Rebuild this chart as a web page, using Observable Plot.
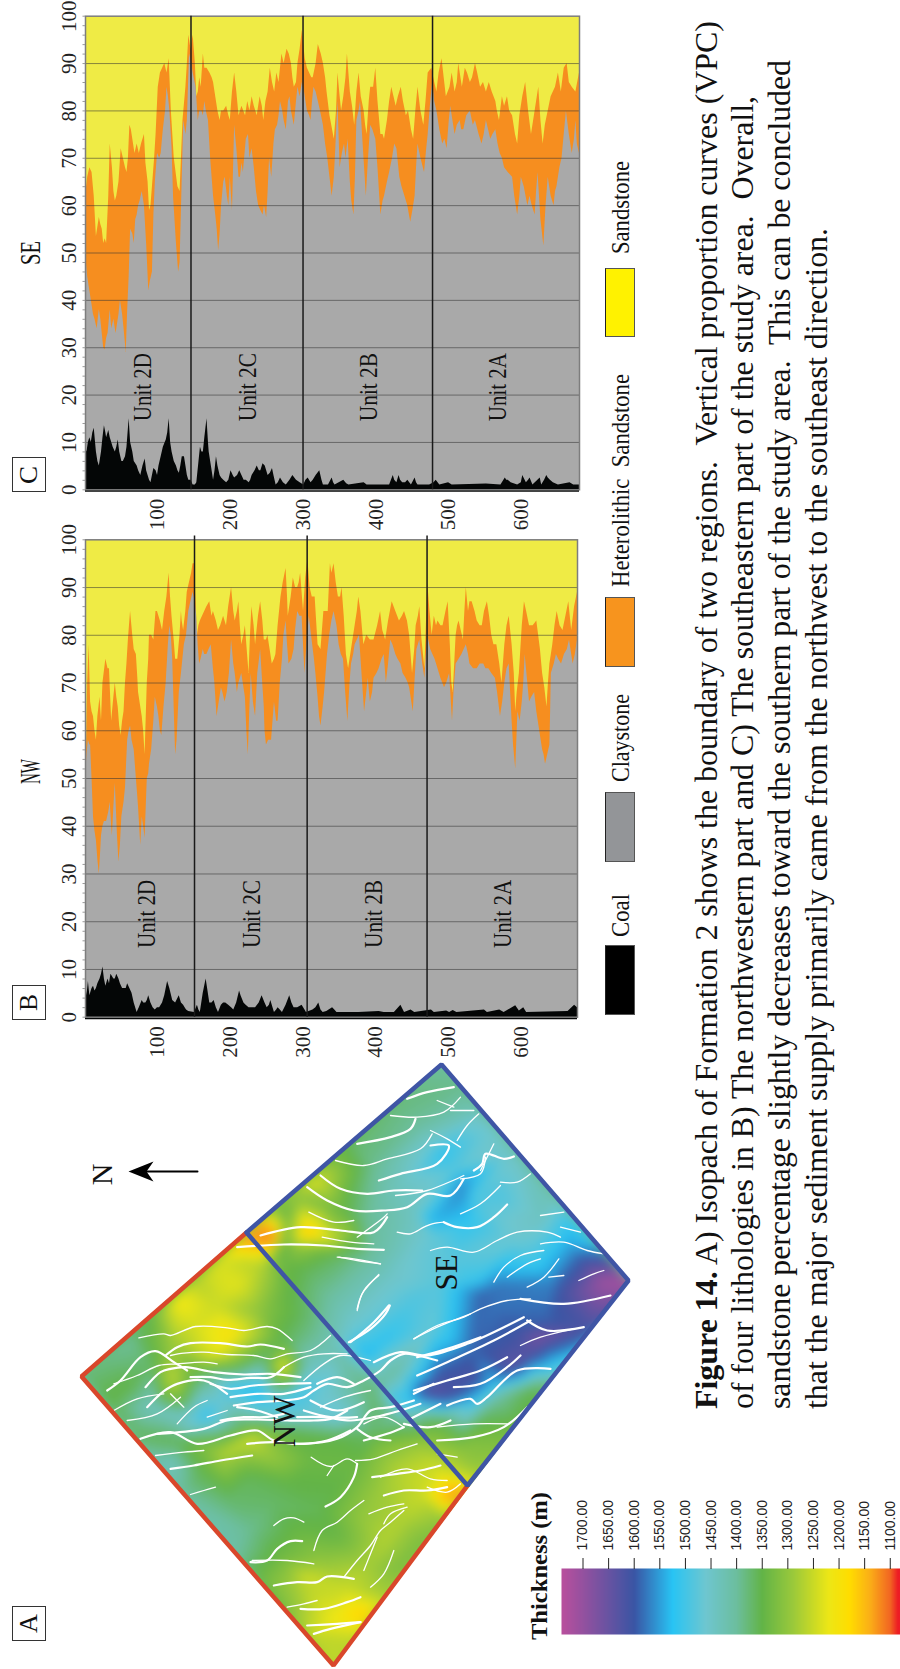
<!DOCTYPE html>
<html><head><meta charset="utf-8">
<script src="https://cdn.jsdelivr.net/npm/d3@7"></script>
<script src="https://cdn.jsdelivr.net/npm/@observablehq/plot@0.6"></script>
<style>
html,body{margin:0;padding:0;background:#fff}
#page{position:relative;width:900px;height:1669px;overflow:hidden;font-family:"Liberation Serif",serif;color:#111}
#page>svg,#page>figure{position:absolute;margin:0}
.rt{position:absolute;left:0;top:0;white-space:pre;line-height:1;transform-origin:0 0}
.sw{position:absolute;box-sizing:border-box}
.box{position:absolute;box-sizing:border-box;border:1.5px solid #333;background:#fff}
</style></head><body><div id="page"></div>
<script>
// ---------- vertical proportion curves: [depth index, cumulative percent] ----------
const seHeteroTop=[[1,62],[7,68],[10,67],[13,62],[16,53.5],[20,57.5],[22,56],[26,52],[30,52],[33,62],[35,73],[40,63],[44,62],[47,65],[50,72],[56,68],[58,67],[62,77],[66,74],[72,73],[75,71],[82,75],[87,65],[89,59],[93,64],[98,75],[101,85],[107,89],[116,91],[119,80],[123,70],[128,64],[131,63],[135,78],[139,85],[143,96],[149,96],[154,83],[158,87],[163,92],[168,89],[177,86],[181,82],[186,78],[191,80],[195,81],[200,78],[206,88],[212,79],[216,81],[221,79],[230,83],[237,79],[241,83],[246,78],[249,82],[255,89],[261,84],[271,92],[274,90],[278,93],[284,90],[288,85],[293,90],[299,97],[303,91],[309,88],[314,87],[321,94],[328,90],[333,84],[337,79],[343,74],[348,88],[353,80],[356,83],[361,92],[365,84],[371,77],[377,88],[384,80],[388,75],[393,85],[400,89],[407,75],[412,74],[416,78],[422,85],[428,81],[435,85],[442,79],[452,74],[458,85],[466,77],[472,88],[477,89],[484,84],[491,91],[497,83],[505,88],[509,84],[514,90],[519,85],[523,89],[530,86],[537,90],[544,85],[556,86],[565,82],[570,78],[574,83],[584,80],[595,73],[606,86],[614,75],[624,85],[630,73],[637,80],[647,85],[663,90],[670,85],[680,88]];
const seHeteroDetail=[[4,66],[24,55],[28,53],[38,68],[42,61],[53,70],[60,70],[64,76],[69,71],[78,73],[84,69],[91,60],[96,70],[104,88],[110,90],[113,88],[141,90],[146,93],[152,90],[156,84],[160,85],[165,89],[172,88],[175,87],[179,84],[183,80],[188,80],[198,79],[203,84],[209,84],[214,80],[224,82],[227,80],[233,81],[244,81],[252,84],[258,86],[264,88],[267,86],[281,92],[286,87],[291,86],[296,93],[306,89],[312,87],[318,90],[325,92],[331,87],[346,80],[351,83],[359,87],[368,81],[374,84],[380,83],[386,77],[391,82],[397,85],[403,82],[410,75],[419,82],[425,83],[431,83],[438,82],[445,80],[449,76],[455,80],[462,80],[469,82],[481,86],[487,88],[494,87],[502,85],[512,86],[526,88],[533,87],[540,88],[548,86],[552,84],[560,84],[567,80],[577,81],[581,83],[588,79],[592,75],[598,79],[602,83],[610,80],[618,79],[621,82],[627,78],[633,77],[641,83],[651,88],[655,84],[659,89],[666,86],[675,84]];
const seClayTop=[[1,50],[4,45],[9,40],[14,36],[17,34],[20,38],[24,33],[28,29.5],[32,33],[35,38],[37,34],[40,36],[43,33],[47,37],[49,40],[54,34],[57,29],[59,38],[61,45],[63,55],[66,54],[70,57],[74,60],[79,63],[82,60],[85,52],[88,42],[93,46],[95,58],[100,71],[105,71],[111,80],[113,85],[117,80],[120,72],[122,62],[126,52],[129,46],[133,60],[136,78],[141,78],[144,92],[149,88],[153,85],[156,78],[161,80],[165,82],[170,78],[173,70],[177,62],[180,58],[184,50.5],[188,60],[193,66],[198,60],[200,66],[203,59],[206,77],[209,72],[214,66],[218,67],[225,75],[230,72],[236,63],[242,59],[247,60],[250,57.5],[254,70],[260,73],[265,77],[269,82],[274,78],[280,82],[284,80],[288,77],[293,85],[299,86],[306,80],[311,78],[315,85],[321,82],[328,77],[334,70],[340,62],[345,72],[348,82],[351,68],[357,73],[362,74],[365,65],[370,58],[374,78],[379,82],[387,62],[393,77],[400,74],[407,58],[412,62],[419,67],[426,73],[433,66],[440,62],[448,56.5],[454,62],[458,73],[467,67],[472,75],[478,86],[484,80],[492,73],[498,72],[503,81],[509,75],[516,78],[521,76],[530,80],[537,78],[546,73],[552,78],[558,74],[565,76],[571,71],[577,68],[588,66],[595,58],[600,66],[612,62],[619,58],[623,67],[631,51.5],[637,66],[645,60],[649,64],[656,70],[662,80],[670,71],[675,78],[680,71]];
const seClayDetail=[[7,42],[12,37],[22,36],[26,30],[30,32],[45,35],[52,37],[68,52],[72,58],[76,61],[90,44],[97,65],[103,70],[108,76],[115,83],[131,48],[139,75],[147,90],[158,80],[163,79],[167,80],[175,66],[182,55],[186,54],[191,65],[196,62],[212,66],[216,69],[222,74],[227,70],[233,68],[239,60],[245,58],[252,63],[257,66],[262,76],[267,79],[272,80],[277,76],[282,83],[291,82],[296,83],[302,84],[309,79],[313,82],[318,84],[324,80],[331,73],[337,66],[343,66],[354,71],[359,70],[367,61],[372,66],[377,80],[383,72],[390,70],[396,76],[403,68],[410,61],[416,65],[423,70],[429,72],[436,64],[444,60],[451,59],[456,68],[462,70],[470,72],[475,81],[481,82],[488,76],[495,74],[501,78],[506,78],[512,77],[518,76],[525,79],[534,77],[542,75],[549,75],[555,76],[561,75],[568,73],[574,70],[582,67],[591,62],[598,62],[604,64],[609,60],[615,60],[621,63],[627,57],[634,60],[641,62],[647,63],[653,68],[659,75],[666,75],[673,74],[677,73]];
const seCoalTop=[[1,9],[4,9],[7,11],[9,10],[13,13],[16,8],[20,5],[23,8],[27,13.5],[30,11],[33,12.5],[37,10],[42,8],[46,10.5],[51,6],[56,7],[61,15],[66,8],[72,5],[77,3],[83,6.5],[87,3],[91,1.5],[95,4.5],[100,3],[105,7],[112,10.5],[116,15],[120,8],[126,5],[130,3.5],[134,7],[137,7],[141,3],[146,2],[149,1],[154,1.5],[159,9],[163,8],[168,15],[171,8],[177,2],[181,7],[186,3],[191,2],[195,1.5],[201,4],[206,2.5],[213,4],[219,2],[226,1.5],[230,3],[237,5],[242,4],[248,5],[252,3],[258,4.5],[263,1],[269,2.5],[277,1],[286,3],[291,2],[301,1],[307,2.5],[314,2],[323,4],[328,1],[340,2.5],[344,1],[356,2],[363,1],[384,1.5],[388,1],[419,1],[424,3],[429,1.5],[432,3],[437,1.5],[444,2],[449,1],[454,2.5],[458,1],[474,1],[483,2],[488,1],[500,1.5],[505,1],[552,1.2],[572,1],[578,2.5],[582,2],[586,1.5],[595,1],[602,3],[607,1.5],[612,2.5],[616,1],[626,2.5],[628,1],[635,3],[640,2],[644,1.5],[651,1],[667,1.5],[672,1],[680,1]];
const seCoalDetail=[[3,8],[5,10],[11,12],[18,6],[25,11],[29,12],[35,11],[39,9],[44,9],[48,8],[53,6],[58,9],[63,10],[68,6],[74,4],[80,5],[85,4],[89,2],[93,3],[98,4],[102,5],[108,9],[114,12],[118,10],[123,6],[128,4],[132,5],[139,5],[143,2],[152,1],[157,6],[161,8],[165,11],[170,10],[174,5],[179,4],[183,5],[188,2.5],[198,2],[204,3],[210,3],[216,3],[222,2],[228,2],[234,4],[240,4],[245,5.5],[250,4],[255,3.5],[260,3],[266,1.5],[273,1.5],[282,2],[296,1.5],[304,2],[311,1.5],[318,3],[326,2],[335,1],[342,1.5],[360,1.3],[426,2],[434,2],[441,1.5],[456,1.5],[480,1.5],[580,2],[600,1.5],[610,2],[632,2],[637,2.5]];

const nwHeteroTop=[[1,52],[2,52],[6,78],[8,66],[12,63],[16,58],[21,67],[23,62],[29,75],[34,73],[37,62],[42,70],[46,65],[50,59],[54,64],[58,74],[63,85],[68,77],[71,76],[74,68],[79,63],[83,55],[86,70],[89,80],[95,79],[98,85],[102,84],[107,81],[113,88],[116,93],[120,84],[125,75],[128,75],[133,85],[136,81],[141,89],[147,93],[151,95],[155,80],[159,83],[165,85],[172,87],[177,85],[184,81],[191,84],[195,82],[202,90],[207,83],[212,87],[216,78],[221,82],[226,72],[230,86],[235,78],[242,87],[247,79],[252,80],[258,74],[263,76],[270,88],[277,94],[280,84],[287,92],[293,90],[297,93],[301,85],[307,96],[313,88],[317,88],[321,78],[325,77],[329,85],[335,85],[338,95],[343,95],[349,88],[354,90],[360,76],[363,73],[368,78],[372,82],[377,88],[384,78],[388,80],[398,79],[407,85],[414,79],[423,87],[433,83],[440,85],[447,80],[451,72],[456,82],[461,86],[468,73],[472,91],[478,80],[481,84],[486,83],[493,82],[500,87],[505,70],[507,68],[511,80],[515,83],[521,79],[525,90],[528,85],[533,87],[540,83],[547,82],[554,87],[560,80],[567,78],[574,70],[584,84],[591,72],[593,64],[598,72],[605,87],[612,82],[622,83],[630,72],[636,65],[640,74],[644,78],[650,85],[658,81],[666,87],[670,81],[678,89]];
const nwHeteroDetail=[[4,70],[10,64],[14,60],[18,63],[25,70],[32,73],[40,67],[44,67],[48,61],[52,62],[56,70],[60,79],[66,80],[73,71],[81,60],[88,75],[92,80],[100,85],[104,83],[110,85],[118,88],[123,79],[131,80],[134,83],[139,85],[144,91],[149,95],[157,82],[162,84],[168,86],[175,84],[181,83],[187,82],[198,86],[205,85],[210,85],[214,82],[219,80],[224,76],[228,80],[233,82],[239,84],[245,83],[250,79],[255,77],[261,75],[266,82],[273,91],[279,88],[284,88],[290,90],[295,91],[299,89],[304,92],[310,90],[315,88],[319,83],[327,81],[332,85],[340,93],[346,91],[352,88],[357,84],[365,75],[370,80],[375,85],[380,85],[386,79],[393,79],[403,82],[410,81],[418,83],[428,85],[437,84],[444,83],[449,76],[454,77],[459,84],[464,79],[470,82],[475,85],[484,82],[490,82],[497,85],[503,78],[509,74],[513,82],[518,81],[523,85],[530,87],[537,85],[544,82],[550,85],[557,84],[563,78],[571,74],[578,78],[581,82],[588,78],[595,68],[602,82],[608,85],[617,82],[627,77],[633,69],[638,70],[642,76],[647,82],[654,82],[662,84],[668,84],[674,86]];
const nwClayTop=[[1,50],[5,58],[8,57],[10,50],[12,42],[16,37],[20,30],[23,38],[27,41],[30,41],[35,45],[38,38],[42,49],[47,32.5],[51,42],[56,48],[59,58],[63,61],[68,56],[71,50],[74,44],[77,36],[79,42],[83,37.5],[86,50],[89,53],[92,56],[97,67],[102,63],[106,59],[112,70],[117,82],[121,75],[125,55],[130,68],[137,78],[143,85],[149,89],[154,84],[158,74],[163,77],[168,76],[174,78],[179,70],[182,63],[188,69],[193,66],[199,72],[202,79],[207,72],[210,68],[216,72],[221,67],[225,55],[229,72],[235,63],[242,77],[247,65],[250,57],[257,58],[261,66],[266,62],[272,75],[277,83],[281,74],[288,77],[293,85],[299,84],[303,72],[309,84],[316,75],[321,67],[325,61],[330,68],[337,80],[343,85],[350,78],[356,75],[362,62],[367,74],[372,78],[378,80],[385,64],[390,71],[393,66],[398,71],[405,73],[412,76],[415,70],[421,79],[428,76],[435,74],[442,71],[447,69],[452,64],[457,77],[461,79],[468,71],[472,80],[479,76],[486,73],[495,69],[502,72],[506,62],[511,74],[519,76],[525,78],[530,74],[540,73],[549,74],[556,73],[565,71],[572,63],[578,70],[584,74],[588,62],[593,52],[596,64],[602,66],[606,76],[612,66],[619,68],[626,60],[630,56],[634,53],[640,57],[642,72],[649,76],[656,74],[660,76],[667,79],[672,74],[678,79]];
const nwClayDetail=[[3,55],[7,57],[14,39],[18,33],[22,35],[25,40],[33,43],[37,40],[40,44],[45,38],[49,36],[54,45],[61,60],[65,58],[73,46],[81,40],[88,51],[95,62],[100,65],[104,60],[109,65],[115,78],[119,80],[123,65],[127,58],[133,72],[140,80],[146,87],[152,87],[156,78],[160,75],[165,76],[171,77],[177,73],[185,66],[190,68],[196,68],[205,74],[212,70],[218,70],[223,60],[227,64],[232,66],[238,72],[244,72],[248,60],[253,58],[259,62],[264,62],[269,70],[274,80],[279,78],[285,75],[290,81],[296,84],[301,78],[306,79],[312,80],[318,72],[323,63],[328,65],[334,76],[340,83],[347,82],[353,76],[359,68],[365,70],[370,76],[375,79],[381,73],[388,68],[396,68],[402,72],[409,75],[418,74],[424,78],[431,75],[438,72],[445,70],[450,66],[455,72],[465,74],[470,76],[476,77],[482,75],[490,71],[498,70],[504,67],[508,68],[515,75],[522,77],[528,76],[535,73],[544,74],[552,73],[560,72],[568,68],[575,66],[581,73],[586,68],[590,57],[599,62],[604,70],[609,71],[615,67],[622,64],[628,58],[632,55],[637,55],[641,64],[646,74],[652,75],[658,75],[664,77],[670,76],[675,76]];
const nwCoalTop=[[1,5],[2,6],[5,7.5],[7,4.5],[10,6],[14,5.5],[18,7],[21,8],[25,10.5],[29,6.5],[36,9],[40,8],[44,9],[49,7],[54,6],[59,7],[65,5],[72,1],[79,3.5],[84,3],[88,4.5],[94,2],[100,2],[107,3],[114,7.5],[121,3.5],[130,4.5],[136,2.5],[140,1.5],[151,1],[155,2.5],[159,1],[167,8],[172,3],[178,3.5],[184,1],[191,3],[198,2.5],[205,1.5],[213,5.5],[219,3],[226,2],[235,2],[244,4.5],[251,2],[256,3.5],[261,1],[266,2],[272,1],[282,4.5],[288,2],[299,2.5],[305,1],[314,1.5],[322,3],[328,1],[341,2],[347,1],[377,1],[405,1.2],[412,1],[426,1],[435,2.5],[440,1],[449,1.5],[454,1],[477,1.5],[481,1],[498,1.3],[502,1],[507,1.4],[512,1],[550,1.5],[554,1],[571,1.5],[577,1],[593,2.4],[598,1.3],[604,2],[608,1],[665,1.2],[674,2.5],[678,2]];
const nwCoalDetail=[[3,4.5],[8,5],[12,6.5],[16,6],[23,9],[27,8],[32,8],[34,7],[38,8.5],[42,8],[47,8],[52,6],[57,6],[62,6],[68,3],[75,2],[81,3],[86,3.5],[91,3],[97,1.5],[103,2],[110,4.5],[117,6],[125,3],[133,3],[138,2],[143,1.2],[157,1.5],[163,5],[169,6],[175,3],[181,2],[188,2.5],[194,3],[202,2],[209,3],[215,4.5],[222,2.5],[230,2],[240,3],[248,3],[254,2.5],[259,2],[264,1.5],[269,1.5],[277,2.5],[285,3],[293,2],[303,1.5],[318,2],[325,1.5],[333,1.2],[344,1.5]];

const depthTicks=[100,200,300,400,500,600];
const pctTicks=[0,10,20,30,40,50,60,70,80,90,100];
const unitNames=["Unit 2D","Unit 2C","Unit 2B","Unit 2A"];
const seUnitLines=[146,300,478];
const nwUnitLines=[151,306,471];
const seUnitLabelDepth=[79,224,390,567];
const nwUnitLabelDepth=[85,230,397,575];

const lithology=["Coal","Claystone","Heterolithic  Sandstone","Sandstone"];
const lithologyColor=["#000000","#939598","#F7941E","#FFF200"];
const curveColor={sand:"#EFEB45",hetero:"#F68E1F",clay:"#A9A9A9",coal:"#040606"};

// ---------- isopach: colour ramp ----------
const rampValue=[1085,1100,1140,1180,1220,1290,1350,1400,1460,1525,1600,1740];
const rampColor=["#ED1C24","#F26522","#FBAF17","#FFDD00","#EDE716","#9AC93B","#62B447","#6CBE9E","#6EC6D0","#28C4F4","#3A55A4","#B84F9D"];
const rampTicks=[1700,1650,1600,1550,1500,1450,1400,1350,1300,1250,1200,1150,1100];

// corners of the study area on the map sheet
const cornerN=[441,1064],cornerE=[628,1280],cornerS=[333,1665],cornerW=[81,1376];
const junctionNW=[246,1232],junctionSE=[467,1485];

// thickness read along rows running from the NW edge to the SE edge
const rowPos=[0,.125,.25,.375,.5,.5625,.625,.6875,.75,.8125,.875,.9375,1];
const thicknessRows=[
[1400,1390,1430,1450,1440,1430,1430,1470,1500,1600,1720],
[1380,1400,1480,1480,1490,1470,1460,1500,1570,1620,1620],
[1370,1390,1430,1440,1470,1480,1510,1580,1600,1630,1450],
[1230,1330,1300,1400,1450,1490,1470,1560,1620,1400,1340],
[1150,1350,1360,1400,1450,1510,1400,1550,1350,1310,1290],
[1140,1270,1340,1370,1420,1400,1370,1400,1290,1240,1130],
[1240,1230,1310,1360,1430,1450,1440,1330,1270,1250,1300],
[1270,1250,1220,1380,1350,1470,1350,1340,1290,1270,1330],
[1230,1240,1220,1450,1500,1350,1340,1350,1300,1270,1330],
[1350,1290,1350,1470,1350,1290,1350,1360,1340,1280,1290],
[1400,1370,1290,1480,1280,1360,1370,1340,1300,1250,1160],
[1390,1350,1420,1360,1350,1370,1390,1340,1270,1230,1260],
[1380,1350,1360,1430,1400,1420,1410,1340,1320,1260,1260]];
// local highs and lows [sheet x, sheet y, thickness]
const thicknessSpots=[[603,1280,1710],[587,1290,1670],[560,1290,1610],[480,1293,1590],[493,1287,1580],[540,1337,1670],[527,1350,1630],[547,1320,1590],[513,1367,1640],[473,1350,1590],[440,1380,1620],[427,1392,1640],[447,1397,1620],[473,1397,1540],[493,1383,1530],[407,1397,1520],[453,1367,1600],[273,1238,1110],[307,1232,1150],[335,1240,1260],[315,1183,1240],[297,1197,1310],[287,1217,1340],[340,1210,1340],[363,1220,1390],[273,1207,1320],[283,1263,1340],[340,1257,1370],[300,1247,1300],[560,1383,1380],[533,1390,1350],[523,1410,1350],[432,1220,1540],[467,1220,1520],[463,1183,1570],[440,1153,1520],[500,1197,1490],[540,1217,1440],[567,1220,1510],[573,1250,1560],[440,1283,1480],[380,1343,1520],[367,1353,1540],[393,1397,1510],[380,1383,1400],
[453,1493,1120],[443,1497,1150],[233,1333,1190],[170,1380,1260],[237,1388,1520],[267,1393,1480],[257,1390,1530],[300,1390,1500],[343,1417,1470],[330,1380,1470],[227,1383,1480],[183,1417,1450],[153,1407,1440],[370,1433,1370],[203,1417,1520],[250,1437,1250],[223,1453,1270],[343,1617,1200],[357,1613,1170],[303,1580,1240],[177,1300,1210],[217,1283,1240],[247,1240,1130],[283,1367,1220],[170,1462,1440],[403,1413,1450]];

// fault traces digitised on the map sheet, western part
const faultsWestBold=[
[[285,405],[320,380],[360,368],[450,368],[530,378],[570,372],[640,385]],
[[110,510],[150,480],[210,410],[255,392],[310,425],[350,450]],
[[225,500],[270,455],[300,445],[345,440],[430,455],[520,462],[600,460],[690,470]],
[[420,490],[480,505],[550,495],[640,490],[720,488]],
[[230,560],[280,512],[320,490],[400,480],[470,520]],
[[490,555],[560,545],[640,540],[700,530],[730,510],[770,490],[830,500],[880,480],[930,450],[960,420],[1000,400],[1040,405],[1100,420]],
[[260,640],[400,625],[470,600],[560,597],[650,600],[730,600],[780,595],[830,570]],
[[210,655],[300,635],[380,670],[480,645],[560,630],[610,660],[700,670],[800,655],[860,620],[900,570],[960,560],[1030,540]],
[[300,745],[370,735],[450,720],[545,705]],
[[765,858],[810,830],[850,770],[860,730]],
[[610,1095],[680,1085],[740,1085],[770,1068],[850,1075]],
[[540,1025],[590,1020],[620,985],[660,962],[695,962]],
[[690,1165],[760,1165],[830,1145],[870,1130]],
[[710,1215],[800,1210],[870,1205]],
[[730,1240],[780,1225],[870,1205]],
[[835,365],[900,325],[945,280],[958,255]],
[[905,770],[980,760],[1050,750],[1110,735]],
[[940,825],[1000,810],[1070,810],[1130,800]],
[[360,470],[420,470],[470,478],[540,472],[600,470],[640,440]],
[[480,530],[560,520],[640,520],[720,500]],
[[450,600],[520,590],[580,590],[640,580]],
[[500,560],[560,570],[620,590]],
[[700,570],[780,590],[860,590]],
[[740,490],[800,470],[850,490]],
[[720,540],[800,570],[880,545]],
[[880,660],[950,640],[1000,620]],
[[860,625],[900,650],[960,660]],
[[1000,610],[1080,620],[1140,600]],
[[500,80],[640,72],[760,75],[860,85],[940,88]],
[[1040,410],[1130,385],[1230,350]]];
const faultsWestThin=[
[[205,352],[280,340],[300,345],[375,318],[470,322],[520,330],[590,318],[620,325],[665,360]],
[[300,405],[340,398],[400,395],[470,402],[550,405],[600,415],[650,400],[720,390],[780,345]],
[[130,490],[200,465],[265,435],[320,430],[400,425],[440,430]],
[[320,610],[370,560],[410,540]],
[[255,705],[340,695],[400,690]],
[[360,822],[400,810],[435,800]],
[[722,710],[780,738],[830,715],[860,730]],
[[770,765],[790,735]],
[[610,915],[640,895],[670,892],[700,905]],
[[730,990],[755,930],[800,905],[840,870],[880,840]],
[[545,1020],[650,1020],[730,1030]],
[[820,1070],[860,1020],[900,975],[930,930],[960,905],[1000,870]],
[[880,1050],[900,1000],[920,950]],
[[900,1100],[940,1060],[970,990]],
[[895,880],[950,860],[1000,850]],
[[940,910],[960,880],[1010,860]],
[[650,1160],[700,1150],[740,1140]],
[[1070,800],[1130,815],[1170,790]],
[[855,720],[910,715],[980,690],[1040,670]],
[[1100,700],[1160,710]],
[[860,270],[880,210],[925,165]],
[[805,110],[860,120],[930,130]],
[[130,570],[200,535],[280,520]],
[[170,600],[260,580],[330,530]],
[[640,440],[700,410],[760,400],[830,400]],
[[700,480],[760,430],[810,405],[900,420]],
[[750,560],[820,530],[900,510]],
[[880,610],[940,590],[1000,620]],
[[1030,355],[1100,320],[1200,280]],
[[300,520],[340,560]],
[[410,590],[470,570]]];
// fault traces digitised on the map sheet, eastern part
const faultsEastBold=[
[[500,145],[560,125],[640,110]],
[[350,280],[450,260],[510,235],[525,205]],
[[415,390],[480,370],[590,340],[625,285],[570,285]],
[[240,375],[300,415],[380,430],[460,420],[545,420]],
[[200,410],[260,450],[340,480],[430,480],[500,470],[560,430],[630,435],[670,385]],
[[700,360],[725,340],[735,310],[790,325],[820,318]],
[[610,515],[650,530],[710,530],[760,500],[800,462]],
[[60,555],[180,530],[300,540],[400,545],[440,500]],
[[330,875],[400,815],[445,765]],
[[840,745],[970,760],[1110,735]],
[[860,810],[920,840],[1030,830]],
[[400,935],[480,905],[560,915],[680,880],[850,800]],
[[530,975],[620,935],[760,870],[870,810]],
[[640,1010],[720,1000],[800,950],[840,915]],
[[520,1020],[620,990],[720,960],[800,920]],
[[620,1065],[690,1045],[710,1060],[740,1040],[830,960],[930,955]],
[[510,1105],[600,1060]],
[[590,1170],[700,1160],[790,1130],[860,1070]],
[[170,1100],[250,1100],[330,1110],[400,1100],[480,1080],[540,1060]],
[[20,1180],[100,1175],[180,1180],[260,1170],[330,1140]],
[[520,1030],[580,1000]]];
const faultsEastThin=[
[[450,195],[530,200],[610,185],[660,140]],
[[630,180],[700,180]],
[[590,150],[640,170]],
[[650,270],[680,225],[715,190]],
[[285,330],[370,345],[440,325],[540,295],[575,250]],
[[570,240],[620,265],[660,290]],
[[660,385],[720,370],[735,320]],
[[465,435],[560,420],[670,375]],
[[780,395],[830,395],[870,370]],
[[720,360],[760,280]],
[[660,490],[720,460],[780,405]],
[[470,545],[510,550],[550,530],[575,520],[610,515]],
[[350,560],[430,500],[440,490]],
[[205,485],[280,515],[340,510]],
[[245,560],[330,575],[400,580]],
[[290,620],[340,625],[420,640]],
[[350,775],[365,730],[415,672]],
[[520,865],[590,825],[670,800],[720,775],[800,750],[870,745]],
[[570,600],[620,590],[700,605],[770,570],[830,545],[920,545],[960,560]],
[[760,695],[790,650],[840,615],[910,600]],
[[800,680],[860,640],[900,625]],
[[860,710],[910,680],[955,625]],
[[925,680],[970,675]],
[[900,495],[970,485]],
[[960,530],[1020,545]],
[[900,580],[970,575],[1040,600],[1090,610]],
[[1015,690],[1060,670],[1090,660]],
[[840,885],[900,860],[1000,835]],
[[590,1130],[700,1120],[800,1120]],
[[420,1280],[500,1255],[570,1285],[620,1290]]];

// ---------- helpers ----------
const page=document.getElementById("page");
const serif='"Liberation Serif",serif';
const rows=(a,b)=>[...a,...b].map(([d,v])=>({d,v})).sort((p,q)=>p.d-q.d);
function stretch(svg,sel,fn){svg.querySelectorAll(sel).forEach(t=>{t.setAttribute("textLength",fn(t.textContent));t.setAttribute("lengthAdjust","spacingAndGlyphs");});}
function place(el,left,top){el.style.left=left+"px";el.style.top=top+"px";el.style.position="absolute";page.appendChild(el);}
// text reading upward: baseline at screen x, first letter at bottom y, stretched to len
function upText(parts,x,y,len,fs,font){
  const s=document.createElement("span");s.className="rt";s.style.fontSize=fs+"px";s.style.fontFamily=font||serif;
  parts.forEach(p=>{const b=document.createElement("span");b.textContent=p.t;if(p.b)b.style.fontWeight="bold";s.appendChild(b);});
  page.appendChild(s);
  const w=s.getBoundingClientRect().width;
  s.style.transform=`translate(${x-0.8375*fs}px,${y}px) rotate(-90deg) scale(${len/w},1)`;
}

function vpc(cfg){
  const fig=Plot.plot({
    width:640,height:530,
    marginLeft:85,marginRight:640-cfg.right,marginTop:cfg.y100,marginBottom:530-cfg.y0,
    x:{domain:[1,cfg.maxDepth],axis:null},
    y:{domain:[0,100],axis:null},
    style:{fontFamily:serif,background:"transparent",overflow:"visible"},
    marks:[
      Plot.frame({fill:curveColor.sand,stroke:"none"}),
      Plot.areaY(rows(...cfg.hetero),{x:"d",y:"v",fill:curveColor.hetero}),
      Plot.areaY(rows(...cfg.clay),{x:"d",y:"v",fill:curveColor.clay}),
      Plot.gridY(pctTicks.filter(p=>p>0&&p<100),{stroke:"#333",strokeOpacity:.55,strokeWidth:1}),
      Plot.areaY(rows(...cfg.coal),{x:"d",y:"v",fill:curveColor.coal}),
      Plot.ruleY([0],{stroke:curveColor.coal,strokeWidth:4}),
      Plot.frame({stroke:"#7d7d7d",strokeWidth:1.5}),
      Plot.ruleX(cfg.lines,{y1:0,y2:cfg.lineTop,stroke:"#1a1a1a",strokeWidth:1.5}),
      Plot.axisY(d3.range(0,101,2),{anchor:"left",label:null,tickSize:2.5,tickFormat:()=>"",stroke:"#999"}),
      Plot.axisY(pctTicks,{anchor:"left",label:null,tickSize:0,tickPadding:16,tickRotate:-90,textAnchor:"middle",lineAnchor:"middle",fontSize:21,fill:"#222",tickFormat:d=>String(d),ariaLabel:"pct"}),
      Plot.axisX(depthTicks,{anchor:"bottom",label:null,tickSize:0,tickPadding:cfg.xPad,tickRotate:-90,fontSize:21,fill:"#222",tickFormat:d=>String(d),ariaLabel:"depth"}),
      Plot.text(unitNames,{x:(d,i)=>cfg.labelDepth[i],y:14.5,text:d=>d,rotate:-90,textAnchor:"start",fontSize:26,fill:"#111",className:"unit"})
    ]});
  stretch(fig,'g[aria-label="pct"] text',t=>t.length*7.8);
  stretch(fig,'g[aria-label="depth"] text',t=>t.length*8);
  stretch(fig,'.unit text',()=>68);
  place(fig,0,cfg.top);
}

// ---------- map ----------
const mix=(a,b,k)=>[a[0]+(b[0]-a[0])*k,a[1]+(b[1]-a[1])*k];
const fieldPts=[];
rowPos.forEach((s,i)=>{const a=mix(cornerN,cornerW,s),b=mix(cornerE,cornerS,s);
  thicknessRows[i].forEach((v,j)=>{const p=mix(a,b,j/10);fieldPts.push({x:p[0],y:p[1],v});});});
thicknessSpots.forEach(([x,y,v])=>fieldPts.push({x,y,v}));
const W=[0,640],H=[1040,1669];
const mW=[-6,646],mH=[1034,1675];
const masks=[
 [[mW[0],mH[0]],[cornerN[0],mH[0]],cornerN,cornerW,[mW[0],cornerW[1]]],
 [[cornerN[0],mH[0]],[mW[1],mH[0]],[mW[1],cornerE[1]],cornerE,cornerN],
 [[mW[1],cornerE[1]],[mW[1],mH[1]],[cornerS[0],mH[1]],cornerS,cornerE],
 [[cornerS[0],mH[1]],[mW[0],mH[1]],[mW[0],cornerW[1]],cornerW,cornerS]
].flatMap((r,k)=>r.map(p=>({x:p[0],y:p[1],k})));
const west=(u,v)=>({x:70+u/3,y:1220+v/3}),east=(u,v)=>({x:240+u/3,y:1050+v/3});
const traces=(list,f)=>list.flatMap((l,k)=>l.map(([u,v])=>({...f(u,v),k})));
const pt=p=>({x:p[0],y:p[1]});
const colorScale={type:"linear",domain:rampValue,range:rampColor,interpolate:"rgb",clamp:true};
const faultStyle={x:"x",y:"y",z:"k",stroke:"white",curve:"catmull-rom",strokeLinecap:"round"};
const map=Plot.plot({
  width:640,height:629,margin:0,
  x:{domain:W,range:[0,640],axis:null},
  y:{domain:H,range:[0,629],axis:null},
  color:colorScale,
  style:{fontFamily:serif,background:"transparent",overflow:"visible"},
  marks:[
    Plot.raster(fieldPts,{x:"x",y:"y",fill:"v",interpolate:"barycentric",pixelSize:1,blur:5}),
    Plot.line(masks,{x:"x",y:"y",z:"k",fill:"white",stroke:"white",strokeWidth:1.5}),
    Plot.line(traces(faultsWestBold,west),{...faultStyle,strokeWidth:2.2}),
    Plot.line(traces(faultsWestThin,west),{...faultStyle,strokeWidth:1.3}),
    Plot.line(traces(faultsEastBold,east),{...faultStyle,strokeWidth:2.2}),
    Plot.line(traces(faultsEastThin,east),{...faultStyle,strokeWidth:1.3}),
    Plot.line([junctionNW,cornerW,cornerS,junctionSE].map(pt),{x:"x",y:"y",stroke:"#D9472B",strokeWidth:4.5,strokeLinejoin:"miter"}),
    Plot.line([junctionNW,cornerN,cornerE,junctionSE,junctionNW].map(pt),{x:"x",y:"y",stroke:"#3F55A5",strokeWidth:4.5,strokeLinejoin:"miter"}),
    Plot.line([{x:197,y:1171},{x:146,y:1171}],{x:"x",y:"y",stroke:"#000",strokeWidth:2}),
    Plot.line([{x:128,y:1171},{x:153,y:1161},{x:146,y:1171},{x:153,y:1181}],{x:"x",y:"y",fill:"#000",stroke:"none"}),
    Plot.text(["N"],{x:102,y:1174,rotate:-90,fontSize:30,fill:"#111"}),
    Plot.text(["NW"],{x:285,y:1421,rotate:-90,fontSize:31,fill:"#111"}),
    Plot.text(["SE"],{x:447,y:1272,rotate:-90,fontSize:31,fill:"#111"})
  ]});
place(map,0,1040);

vpc({top:0,right:579,maxDepth:680,y100:15.7,y0:489.3,hetero:[seHeteroTop,seHeteroDetail],clay:[seClayTop,seClayDetail],coal:[seCoalTop,seCoalDetail],lines:seUnitLines,lineTop:100,labelDepth:seUnitLabelDepth,xPad:9});
vpc({top:530,right:577,maxDepth:678,y100:9.3,y0:486.7,hetero:[nwHeteroTop,nwHeteroDetail],clay:[nwClayTop,nwClayDetail],coal:[nwCoalTop,nwCoalDetail],lines:nwUnitLines,lineTop:100.8,labelDepth:nwUnitLabelDepth,xPad:9});

// ---------- colour bar ----------
const bar=Plot.plot({
  width:400,height:229,marginLeft:61,marginRight:0,marginTop:128,marginBottom:35,
  x:{domain:[1742,1080],axis:null},
  y:{domain:[0,1],axis:null},
  color:colorScale,
  style:{fontFamily:'"Liberation Sans",sans-serif',background:"transparent",overflow:"visible"},
  marks:[
    Plot.raster({fill:(x,y)=>x,x1:1742,x2:1080,y1:0,y2:1,pixelSize:1}),
    Plot.axisX(rampTicks,{anchor:"top",label:null,tickSize:11,tickPadding:7,tickRotate:-90,fontSize:14,fill:"#222",stroke:"#222",tickFormat:d=>d.toFixed(2),ariaLabel:"ramp"})
  ]});
stretch(bar,'g[aria-label="ramp"] text',()=>45);
place(bar,500,1440);
upText([{t:"Thickness (m)",b:1}],547,1640,148,24);

// ---------- legend swatches ----------
const swatchY=[[945,1015],[792,862],[597,667],[268,337]];
const labelSpan=[[937,43],[782,88],[587,213],[254,93]];
lithology.forEach((name,i)=>{
  const d=document.createElement("div");d.className="sw";
  d.style.cssText=`left:605px;width:30px;top:${swatchY[i][0]}px;height:${swatchY[i][1]-swatchY[i][0]}px;background:${lithologyColor[i]};border:1px solid #555;border-left:1.5px solid #222`;
  page.appendChild(d);
  upText([{t:name}],630,labelSpan[i][0],labelSpan[i][1],26);
});

// ---------- panel boxes ----------
[["C",457,35,484,18],["B",985,35,1011,17],["A",1606,35,1633,19]].forEach(([t,top,h,base,len])=>{
  const d=document.createElement("div");d.className="box";d.style.cssText=`left:12px;width:34px;top:${top}px;height:${h}px`;
  page.appendChild(d);
  upText([{t}],38,base,len,26);
});
// region headings
upText([{t:"SE"}],40,265,24,30);
upText([{t:"NW"}],40,784,25,30);

// ---------- caption ----------
upText([{t:"Figure 14.",b:1},{t:" A) Isopach of Formation 2 shows the boundary of two regions.  Vertical proportion curves (VPC)"}],717,1409,1388,31);
upText([{t:"of four lithologies in B) The northwestern part and C) The southeastern part of the study area.  Overall,"}],753,1409,1313,31);
upText([{t:"sandstone percentage slightly decreases toward the southern part of the study area.  This can be concluded"}],790,1409,1349,31);
upText([{t:"that the major sediment supply primarily came from the northwest to the southeast direction."}],827,1409,1181,31);
</script></body></html>
